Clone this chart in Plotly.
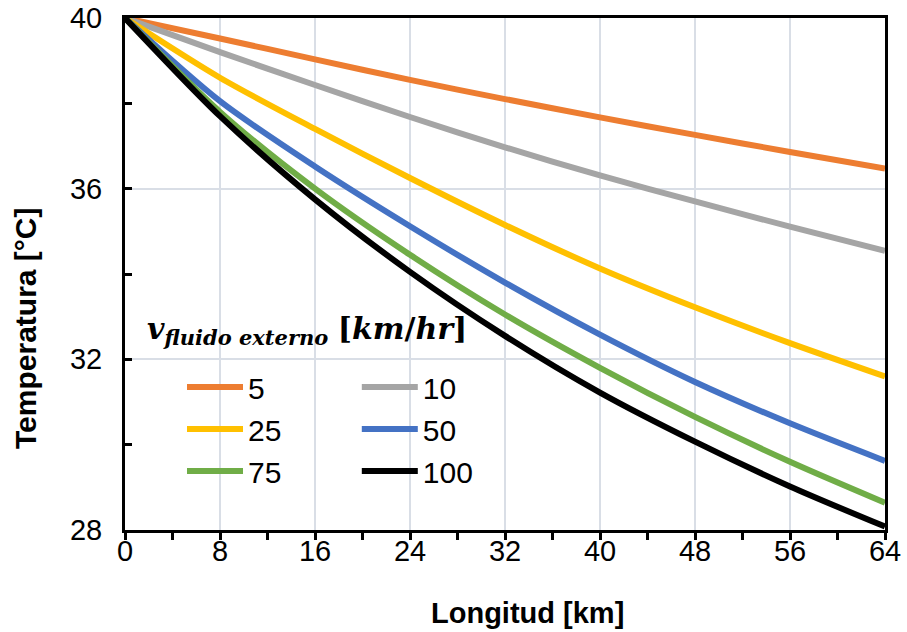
import plotly.graph_objects as go

longitud = [0, 8, 16, 24, 32, 40, 48, 56, 64]
t_5 = [40, 39.52, 39.03, 38.55, 38.1, 37.67, 37.26, 36.86, 36.47]
t_10 = [40, 39.2, 38.43, 37.68, 36.97, 36.31, 35.7, 35.11, 34.54]
t_25 = [40, 38.6, 37.4, 36.25, 35.15, 34.13, 33.22, 32.38, 31.6]
t_50 = [40, 38.05, 36.52, 35.12, 33.8, 32.58, 31.47, 30.5, 29.62]
t_75 = [40, 37.8, 36.0, 34.45, 33.05, 31.8, 30.65, 29.6, 28.64]
t_100 = [40, 37.7, 35.75, 34.05, 32.55, 31.22, 30.07, 29.02, 28.08]

series = [
    ("5", t_5, "#ED7D31", "legend"),
    ("10", t_10, "#A5A5A5", "legend2"),
    ("25", t_25, "#FFC000", "legend"),
    ("50", t_50, "#4472C4", "legend2"),
    ("75", t_75, "#70AD47", "legend"),
    ("100", t_100, "#000000", "legend2"),
]

fig = go.Figure()
for name, ys, color, leg in series:
    fig.add_trace(go.Scatter(
        x=longitud, y=ys, name=name, mode="lines",
        line=dict(color=color, width=6, shape="spline", smoothing=0.8),
        legend=leg, legendgroup=name,
    ))

sans = "Liberation Sans, Arial"
tick_font = dict(family=sans, size=29, color="black")
leg_font = dict(family=sans, size=30, color="black")

fig.update_layout(
    width=907, height=632,
    margin=dict(l=125, r=22, t=18, b=102, autoexpand=False),
    paper_bgcolor="white", plot_bgcolor="white",
    font=dict(family=sans, color="black"),
    xaxis=dict(
        range=[0, 64], tickmode="array", tickvals=list(range(0, 65, 8)),
        showline=True, linecolor="black", linewidth=3, mirror=True,
        ticks="outside", ticklen=7, tickwidth=3, tickcolor="black",
        minor=dict(tickvals=list(range(4, 64, 8)), ticks="outside", ticklen=7,
                   tickwidth=3, tickcolor="black", showgrid=False),
        showgrid=True, gridcolor="#D9DEE6", gridwidth=1.5,
        zeroline=False, tickfont=tick_font, ticklabelstandoff=-14,
        automargin=False,
    ),
    yaxis=dict(
        range=[28, 40], tickmode="array", tickvals=[28, 32, 36, 40],
        showline=True, linecolor="black", linewidth=3, mirror=True,
        ticks="inside", ticklen=7, tickwidth=3, tickcolor="black",
        minor=dict(tickvals=[30, 34, 38], ticks="inside", ticklen=7,
                   tickwidth=3, tickcolor="black", showgrid=False),
        showgrid=True, gridcolor="#D9DEE6", gridwidth=1.5,
        zeroline=False, tickfont=tick_font, ticklabelstandoff=14,
        automargin=False,
    ),
    legend=dict(
        x=0.075, y=0.33, xanchor="left", yanchor="top",
        bgcolor="rgba(0,0,0,0)", font=leg_font,
        tracegroupgap=0, itemwidth=56,
    ),
    legend2=dict(
        x=0.305, y=0.33, xanchor="left", yanchor="top",
        bgcolor="rgba(0,0,0,0)", font=leg_font,
        tracegroupgap=0, itemwidth=56,
    ),
    annotations=[
        dict(
            x=0.026, y=0.39, xref="paper", yref="paper", xanchor="left", yanchor="middle",
            showarrow=False,
            text="<b><i>v</i></b><sub><b><i>fluido externo</i></b></sub> <b>[<i>km</i>/<i>hr</i>]</b>",
            font=dict(family="DejaVu Serif, Liberation Serif", size=30, color="black"),
        ),
        dict(
            x=-0.130, y=0.393, xref="paper", yref="paper", xanchor="center", yanchor="middle",
            showarrow=False, textangle=-90,
            text="<b>Temperatura [°C]</b>",
            font=dict(family=sans, size=30, color="black"),
        ),
        dict(
            x=0.529, y=-0.162, xref="paper", yref="paper", xanchor="center", yanchor="middle",
            showarrow=False,
            text="<b>Longitud [km]</b>",
            font=dict(family=sans, size=29, color="black"),
        ),
    ],
)

fig.write_html("out.html")
